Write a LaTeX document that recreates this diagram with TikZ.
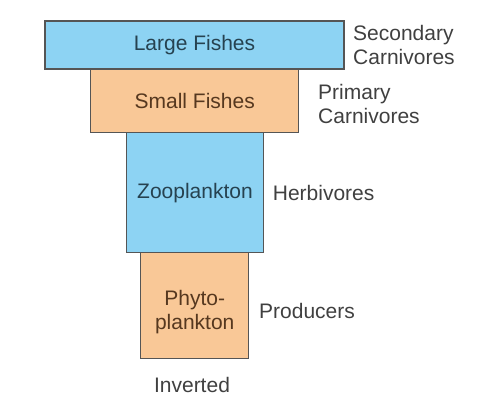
\documentclass[tikz,border=0pt]{standalone}
\usepackage{fontspec}
\setmainfont{Liberation Sans}
\definecolor{fishblue}{HTML}{8DD3F3}
\definecolor{fishorange}{HTML}{F9C897}
\definecolor{edgegray}{HTML}{555555}
\definecolor{bluetext}{HTML}{264250}
\definecolor{browntext}{HTML}{56381F}
\definecolor{taggray}{HTML}{404040}

\begin{document}
\begin{tikzpicture}[x=1pt, y=-1pt,
	level/.style={draw=edgegray, line width=1.5pt, inner sep=0pt, align=center,
		font=\fontsize{21}{24}\selectfont},
	bluelevel/.style={level, fill=fishblue, text=bluetext},
	orangelevel/.style={level, fill=fishorange, text=browntext},
	tag/.style={anchor=west, inner sep=0pt, align=left, text=taggray,
		font=\fontsize{21}{24}\selectfont}]
	\useasboundingbox (0,0) rectangle (477,417);
	% pyramid levels, top to bottom
	\node[bluelevel, minimum width=299pt, minimum height=48pt] (large) at (194.5,44.8) {Large Fishes};
	\node[orangelevel, minimum width=208pt, minimum height=63.7pt] (small) at (194.7,100.8) {Small Fishes};
	\node[bluelevel, minimum width=136.6pt, minimum height=120pt] (zoo) at (195,192.7) {Zooplankton};
	\node[orangelevel, minimum width=108pt, minimum height=105.6pt] (phyto) at (194.7,305.5) {\\[4pt]Phyto-\\plankton};
	% trophic levels
	\node[tag] (second) at (353,45) {Secondary\\Carnivores};
	\node[tag] (prim) at (318,103.5) {Primary\\Carnivores};
	\node[tag] (herb) at (272.7,193) {Herbivores};
	\node[tag] (prod) at (259,311) {Producers};
	\node[text=taggray, inner sep=0pt, font=\fontsize{21}{24}\selectfont] (inv) at (192,385) {Inverted};
\end{tikzpicture}
\end{document}
